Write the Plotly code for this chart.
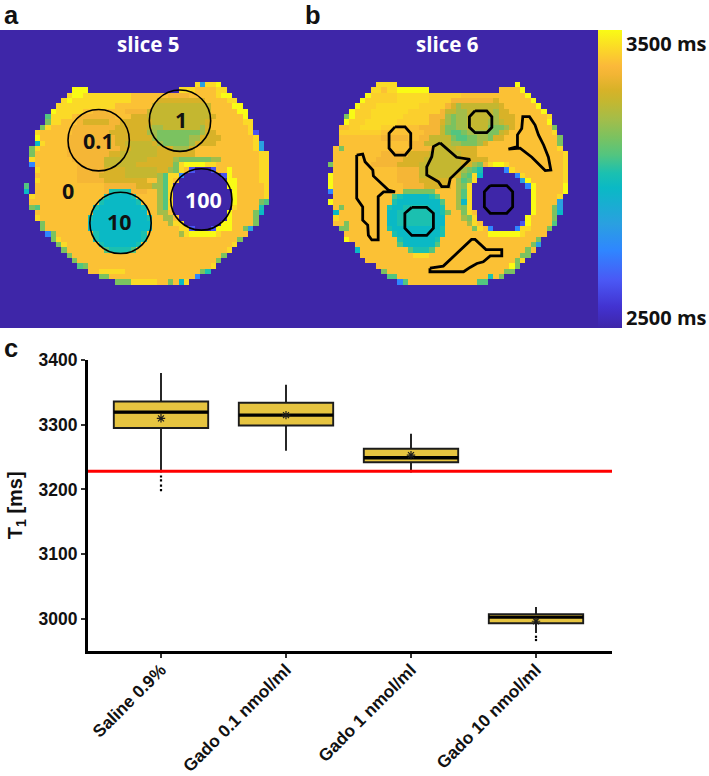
import plotly.graph_objects as go

W, H = 709, 776
DARK = "#3E26A8"

# T1 levels used in the maps (ms)
LEVELS = {".": 2500, "i": 2650, "B": 2760, "S": 2850, "C": 2970, "T": 3020, "G": 3080, "g": 3140,
          "l": 3200, "v": 3260, "d": 3300, "o": 3360, "O": 3395, "w": 3420, "y": 3440, "Y": 3500}

# Each row: "<start column><level>" runs, row index = position in the list; empty rows are background
SLICE5_ROWS = [""] * 10 + [
    "37y 38S 39y 41Y 42.",
    "14Y 17. 34y 37O 41y 43.",
    "13y 14Y 16y 18y 25O 32o 36O 41y 42Y 44.",
    "12y 13Y 14y 25O 30d 37d 39O 43y 45.",
    "11y 12y 22O 29v 38v 40O 44Y 46.",
    "10Y 11y 16O 18o 21O 24o 28v 40O 45Y 47.",
    "9G 10y 14O 15o 22O 25d 28v 40d 41O 46Y 47.",
    "9g 10y 12O 15o 16d 21o 23d 27d 29v 39d 40O 46y 48.",
    "8g 9y 10O 14o 22d 28v 29l 31v 38l 39d 40O 47y 48.",
    "7y 8O 14o 21d 28l 30g 38l 39d 41O 47y 48i 49.",
    "7Y 8O 13o 22d 29l 30g 36l 38d 42O 48y 49.",
    "7C 8y 9O 13o 22d 24v 29d 30l 31g 36l 37d 41O 48y 49S 50.",
    "6g 7y 8O 13o 23d 25v 30d 33l 36d 37O 48y 49S 50.",
    "6g 7O 13o 21d 23v 30d 37O 49y 51.",
    "6y 7O 14o 20v 28d 33l 34g 40l 42O 49y 51.",
    "6B 7O 15o 20v 26d 31d 33g 34y 35Y 39y 41O 49y 51.",
    "7y 8O 15o 20d 24v 30d 32l 33g 34y 35O 36i 37. 40i 41O 43Y 44O 49y 51.",
    "7O 15o 19d 24v 30l 31G 32y 34B 35. 42i 43Y 44O 49y 51.",
    "7y 8O 15o 20d 28O 30l 31G 32y 33O 34. 43Y 45O 49y 51.",
    "5G 6. 7O 20o 26d 29l 30l 31G 32y 33. 43Y 45O 50y 51.",
    "5C 6. 7O 20o 21T 25o 28O 30l 31G 32y 33. 44Y 45O 50y 51.",
    "6y 7O 20T 21C 25T 26O 30l 31G 32y 33. 44Y 45O 50y 51.",
    "6O 19T 20C 26T 27O 30l 31G 32y 33. 44Y 45O 49g 50G 51.",
    "6g 7G 8O 18T 19C 27T 28O 30l 31G 32y 33. 44y 45O 49T 50.",
    "7O 18C 28O 30l 32O 33. 43Y 44O 48g 49C 50.",
    "7y 8O 17T 18C 28T 29O 31l 33O 34. 43Y 44O 48g 49.",
    "8g 9O 17C 29O 32l 33y 35. 42Y 44O 48g 49.",
    "8g 9O 17C 29O 34y 36i 37. 40i 41Y 44O 46g 47S 48.",
    "9B 10g 11O 18T 19C 27T 28O 34l 35y 36Y 41y 42O 47.",
    "10g 11y 12O 18T 19C 27T 28O 45g 46.",
    "11g 12y 13O 19T 20C 26T 27O 44y 45.",
    "12g 13O 20G 21T 25G 26O 43y 44.",
    "13g 14O 42g 43.",
    "14g 15O 41g 42.",
    "15G 16g 17O 40y 41.",
    "17O 19y 24O 38g 39T 40.",
    "19g 21O 37B 38.",
    "22g 25y 30O 32g 33O 34C 35y 36.",
] + [""] * 9
SLICE6_ROWS = [""] * 10 + [
    "14y 18. 40Y 41.",
    "13y 15O 16y 18Y 24. 37O 41Y 42.",
    "12Y 13w 18y 24w 30O 37O 42Y 43.",
    "11Y 12w 18y 24w 28o 36d 37O 43Y 44.",
    "10Y 11w 14y 22w 27o 28d 29l 30v 37d 38O 44Y 45.",
    "9Y 10w 13y 20w 26o 27v 29l 31v 36l 37d 39O 45Y 46.",
    "8g 9Y 10w 13y 19w 24o 27l 28g 29l 31v 36l 37d 40O 46y 47.",
    "8Y 9w 12y 18w 24o 26d 27l 28g 29l 31v 35l 37v 38d 40O 46Y 47.",
    "7O 9w 11y 15w 18O 22o 26v 27g 29l 31v 35g 38l 39d 40O 47g 48.",
    "7w 15O 21O 23o 26v 27g 28G 30g 31l 35g 37v 38d 39O 47y 48.",
    "7O 15o 20O 22o 24v 28g 29G 31g 33l 35g 36d 38O 48g 49.",
    "7O 15O 20o 23v 28l 30g 33l 34d 35O 48g 49.",
    "6O 7g 8O 15O 21o 25v 29d 33O 48y 49.",
    "6O 15o 20d 24v 30d 33O 49y 50.",
    "6O 14o 19d 23v 30d 35O 49y 50.",
    "5g 6O 13o 18d 22v 30d 32l 33g 34o 35y 36Y 38y 39O 49y 50.",
    "6O 14O 18o 22v 30l 31g 32G 33T 34. 38B 39y 40O 49y 50.",
    "5Y 6O 15O 18o 22v 29d 30g 31G 32y 33C 34. 40B 41y 42O 49y 50.",
    "5Y 6O 18o 22d 28O 29l 30G 31g 32y 33. 41S 42Y 43O 49y 50.",
    "5Y 6O 19o 23d 28O 29l 30g 31y 32. 42B 43Y 44O 49Y 50.",
    "5B 6O 19g 25O 29l 30G 31y 32. 43Y 44O 49Y 50.",
    "6O 17G 18T 19C 24T 25G 26O 29l 30G 31y 32. 43Y 44O 48y 49.",
    "5Y 6O 17T 18C 24C 26G 27O 29l 30C 31y 32. 43Y 44O 48S 49.",
    "6O 7g 8O 16T 17C 19T 24C 26T 27O 29l 30g 31y 32. 43Y 44O 47g 48S 49.",
    "6C 7O 16C 18T 25C 26T 27g 28O 30g 31y 32O 33. 43Y 44O 47g 48C 49.",
    "6y 7O 16C 18T 25C 27O 30l 31g 32y 33. 42Y 43O 47g 48.",
    "6O 8g 9O 16C 18T 25C 27O 31l 32y 33O 34. 41i 42Y 43O 47G 48.",
    "7g 9O 16T 17C 26T 27O 32g 33y 34O 35B 36. 40B 41y 43O 46g 47.",
    "8O 17T 18C 25C 26T 27O 34O 35Y 41y 42O 46.",
    "8Y 9O 18T 19C 25T 26O 44g 45.",
    "10O 18G 19C 25G 26O 43g 44S 45.",
    "10C 11O 20G 21T 24G 25O 42g 43O 44.",
    "11O 21y 24O 41g 43.",
    "12O 40g 41y 42.",
    "14O 39Y 40g 41.",
    "15g 16O 38g 40.",
    "16G 18O 35T 36O 37g 38.",
    "18B 19G 20O 33G 35.",
] + [""] * 9
COLUMNS = list(range(57))
ROWS = list(range(57))

# Colour bar stops (fraction of 2500-3500 ms range, colour)
COLOR_STOPS = [
    [0.0, "#3E26A8"], [0.07, "#4232D0"], [0.16, "#4A58F5"], [0.26, "#2F86FF"], [0.35, "#2AA0E0"],
    [0.47, "#0AB9C5"], [0.52, "#1BC0B0"], [0.58, "#52C580"], [0.64, "#7BC260"], [0.70, "#A3BD4A"],
    [0.76, "#C4B730"], [0.80, "#D8B228"], [0.85, "#F2B534"], [0.88, "#FBB93A"], [0.93, "#FBD42A"],
    [1.0, "#F9FB15"],
]

# Slice 5 circular ROIs in cell coordinates: centre column, centre row, radius
ROI5_CENTER_COL = [18.5, 33.75, 22.6, 37.75]
ROI5_CENTER_ROW = [20.4, 16.75, 35.9, 31.5]
ROI5_RADIUS = 5.75

# Slice 6 hand-drawn ROIs in cell coordinates
ROI6_COLS = [
    [32.06, 34.25, 35.2, 35.2, 34.25, 32.06, 31, 31, 32.06],
    [17.06, 18.94, 20, 20, 18.94, 17.06, 15.94, 15.94, 17.06],
    [20.2, 23, 24.25, 24.25, 23, 20.2, 18.9, 18.9, 20.2],
    [34.9, 38, 39.1, 39.1, 38, 34.9, 33.8, 33.8, 34.9],
    [9.875, 11, 11.44, 12.9, 13, 15.8, 17.06, 14.9, 13.9, 13.9, 12.7, 12.06, 11.94, 11, 11, 9.875, 9.875],
    [25.5, 27.4, 28.6, 31.1, 27.4, 27.06, 25.8, 25.2, 23, 23, 23.94, 24.25, 25.5],
    [38.3, 40, 40, 40.8, 41, 42.25, 43.3, 43.94, 44.9, 45.8, 46.25, 45.2, 42.7, 40.5, 38.3],
    [23.6, 26.1, 31.4, 32.06, 34.1, 37.06, 37.06, 34.9, 33.6, 32.4, 31.1, 29.9, 23.6, 23.6],
]
ROI6_ROWS = [
    [14.9, 14.9, 16, 18, 19, 19, 18, 16, 14.9],
    [17.9, 17.9, 19.1, 21.9, 23.2, 23.2, 21.9, 19.1, 17.9],
    [33, 33, 34.1, 36.9, 38.25, 38.25, 36.9, 34.1, 33],
    [28.9, 28.9, 30.06, 32.9, 34.1, 34.1, 32.9, 30.06, 28.9],
    [23.2, 23, 24.44, 26, 27.1, 29.75, 30.1, 30.1, 31, 39.1, 39.1, 38.2, 36.3, 35.4, 32.9, 31.3, 23.2],
    [20.9, 22.6, 23.6, 24, 27.6, 29.1, 29.1, 28.2, 26.9, 25.4, 23.5, 21.6, 20.9],
    [22.06, 21.6, 19.4, 18.2, 16, 16, 17.56, 19.4, 21.3, 23.6, 26, 26.1, 23.6, 21.9, 22.06],
    [44.4, 44, 39, 39, 40.9, 40.9, 42.1, 42.1, 43.2, 43.5, 44.25, 45.06, 45.06, 44.4],
]

# Box plot
CATEGORIES = ["Saline 0.9%", "Gado 0.1 nmol/ml", "Gado 1 nmol/ml", "Gado 10 nmol/ml"]
Q1 = [3295, 3299, 3242, 2993]
MEDIAN = [3319.5, 3315, 3249, 3002.5]
Q3 = [3336, 3334, 3263, 3007]
LOWER = [3226, 3260, 3226, 2978]
UPPER = [3380, 3362, 3286, 3018]
MEANS = [3310, 3315, 3253, 2996]
OUTLIER_CATEGORY = [0, 0, 0, 0, 3, 3]
OUTLIER_VALUE = [3220, 3214, 3206, 3199, 2972, 2967]
REFERENCE_T1 = 3228
BOX_WIDTH = 0.755
YTICKS = [3000, 3100, 3200, 3300, 3400]


def expand(row):
    cells = ["."] * len(COLUMNS)
    tokens = row.split()
    for k, tok in enumerate(tokens):
        start, code = int(tok[:-1]), tok[-1]
        end = int(tokens[k + 1][:-1]) if k + 1 < len(tokens) else len(COLUMNS)
        for c in range(start, end):
            cells[c] = code
    return [LEVELS[ch] for ch in cells]


def px_x(p):
    return p / W


def px_y(p):
    return 1 - p / H


fig = go.Figure()
fig.add_trace(go.Heatmap(z=[expand(r) for r in SLICE5_ROWS], x=COLUMNS, y=ROWS, coloraxis="coloraxis",
                         xaxis="x", yaxis="y", hoverinfo="skip"))
fig.add_trace(go.Heatmap(z=[expand(r) for r in SLICE6_ROWS], x=COLUMNS, y=ROWS, coloraxis="coloraxis",
                         xaxis="x2", yaxis="y2", hoverinfo="skip"))
for cols, rows in zip(ROI6_COLS, ROI6_ROWS):
    fig.add_trace(go.Scatter(x=cols, y=rows, mode="lines", xaxis="x2", yaxis="y2", showlegend=False,
                             line=dict(color="black", width=2.8), hoverinfo="skip"))

x_pos = list(range(len(CATEGORIES)))
fig.add_trace(go.Box(x=x_pos, q1=Q1, median=MEDIAN, q3=Q3, lowerfence=LOWER, upperfence=UPPER,
                     xaxis="x3", yaxis="y3", width=BOX_WIDTH, whiskerwidth=0, fillcolor="#E6C440",
                     line=dict(color="#1c1c1c", width=1.9), boxpoints=False, showlegend=False))
for i, m in zip(x_pos, MEDIAN):
    fig.add_trace(go.Scatter(x=[i - BOX_WIDTH / 2, i + BOX_WIDTH / 2], y=[m, m], mode="lines", xaxis="x3", yaxis="y3",
                             line=dict(color="black", width=3.3), showlegend=False))
fig.add_trace(go.Scatter(x=x_pos, y=MEANS, mode="markers", xaxis="x3", yaxis="y3", showlegend=False,
                         marker=dict(symbol="asterisk-open", size=7, color="#1c1c1c", line=dict(width=1.2, color="#1c1c1c"))))
fig.add_trace(go.Scatter(x=OUTLIER_CATEGORY, y=OUTLIER_VALUE, mode="markers", xaxis="x3", yaxis="y3", showlegend=False,
                         marker=dict(symbol="square", size=2.2, color="black")))
fig.add_trace(go.Scatter(x=[-0.584, 3.608], y=[REFERENCE_T1, REFERENCE_T1], mode="lines", xaxis="x3", yaxis="y3",
                         showlegend=False, line=dict(color="#FF0000", width=3)))

hidden = dict(visible=False, showgrid=False, zeroline=False)
shapes = [dict(type="rect", xref="paper", yref="paper", x0=0, x1=px_x(598), y0=px_y(328), y1=px_y(30),
               fillcolor=DARK, line=dict(width=0), layer="below")]
shapes += [dict(type="circle", xref="x", yref="y",
                x0=c - ROI5_RADIUS, x1=c + ROI5_RADIUS, y0=r - ROI5_RADIUS, y1=r + ROI5_RADIUS,
                line=dict(color="black", width=1.6))
           for c, r in zip(ROI5_CENTER_COL, ROI5_CENTER_ROW)]

SEGOE = "Open Sans"
TXT = "#111111"


def note(x, y, text, size, color=TXT, family=SEGOE, anchor="center", vanchor="middle"):
    return dict(x=px_x(x), y=px_y(y), xref="paper", yref="paper", text=f"<b>{text}</b>", showarrow=False,
                xanchor=anchor, yanchor=vanchor, borderpad=0, font=dict(family=family, size=size, color=color))


annotations = [
    note(11, 0, "a", 25.5, family="Liberation Sans", vanchor="top"),
    note(313, 0, "b", 25.5, family="Liberation Sans", vanchor="top"),
    note(11, 348, "c", 25.5, family="Liberation Sans"),
    note(148, 44, "slice 5", 20.5, "white"), note(447, 44, "slice 6", 20.5, "white"),
    note(98, 140, "0.1", 21.5), note(181, 119, "1", 21.5), note(68, 190, "0", 21.5),
    note(120, 221, "10", 21.5), note(203, 200, "100", 21.5, "white"),
    note(708, 43, "3500 ms", 20, anchor="right"), note(708, 317, "2500 ms", 20, anchor="right"),
]

fig.update_layout(
    width=W, height=H, margin=dict(l=0, r=0, t=0, b=0, autoexpand=False), paper_bgcolor="white", plot_bgcolor="rgba(0,0,0,0)",
    showlegend=False, shapes=shapes, annotations=annotations,
    coloraxis=dict(cmin=2500, cmax=3500, colorscale=COLOR_STOPS,
                   colorbar=dict(x=px_x(597.5), xanchor="left", thickness=24, thicknessmode="pixels",
                                 y=px_y(328), yanchor="bottom", len=298 / H, lenmode="fraction",
                                 xpad=0, ypad=0, outlinewidth=0, ticks="", showticklabels=False)),
    xaxis=dict(domain=[0, px_x(300)], range=[0, 56.25], anchor="y", **hidden),
    yaxis=dict(domain=[px_y(328), px_y(30)], range=[55.6, -0.25], anchor="x", **hidden),
    xaxis2=dict(domain=[px_x(300), px_x(597.5)], range=[-0.75, 55], anchor="y2", **hidden),
    yaxis2=dict(domain=[px_y(328), px_y(30)], range=[55.6, -0.25], anchor="x2", **hidden),
    xaxis3=dict(domain=[px_x(88), px_x(612)], range=[-0.584, 3.608], anchor="y3", showgrid=False, zeroline=False,
                showline=True, linecolor="black", linewidth=3, ticks="outside", ticklen=4, tickwidth=1.5,
                tickcolor="#333333", tickvals=x_pos, ticktext=CATEGORIES, tickangle=-45, ticklabelstandoff=-5,
                tickfont=dict(family="Liberation Sans", size=17.3, color=TXT, weight="bold")),
    yaxis3=dict(domain=[px_y(651), px_y(359.5)], range=[2950, 3401], anchor="x3", showgrid=False, zeroline=False,
                showline=True, linecolor="black", linewidth=3, ticks="outside", ticklen=4, tickwidth=1.5,
                tickcolor="#333333", tickvals=YTICKS,
                tickfont=dict(family="Liberation Sans", size=17.5, color=TXT, weight="bold"),
                title=dict(text="<b>T<sub>1</sub> [ms]</b>", standoff=11,
                           font=dict(family="Liberation Sans", size=20, color=TXT))),
)
fig.write_html("out.html", post_script="document.body.style.margin='0';", config=dict(displayModeBar=False))
